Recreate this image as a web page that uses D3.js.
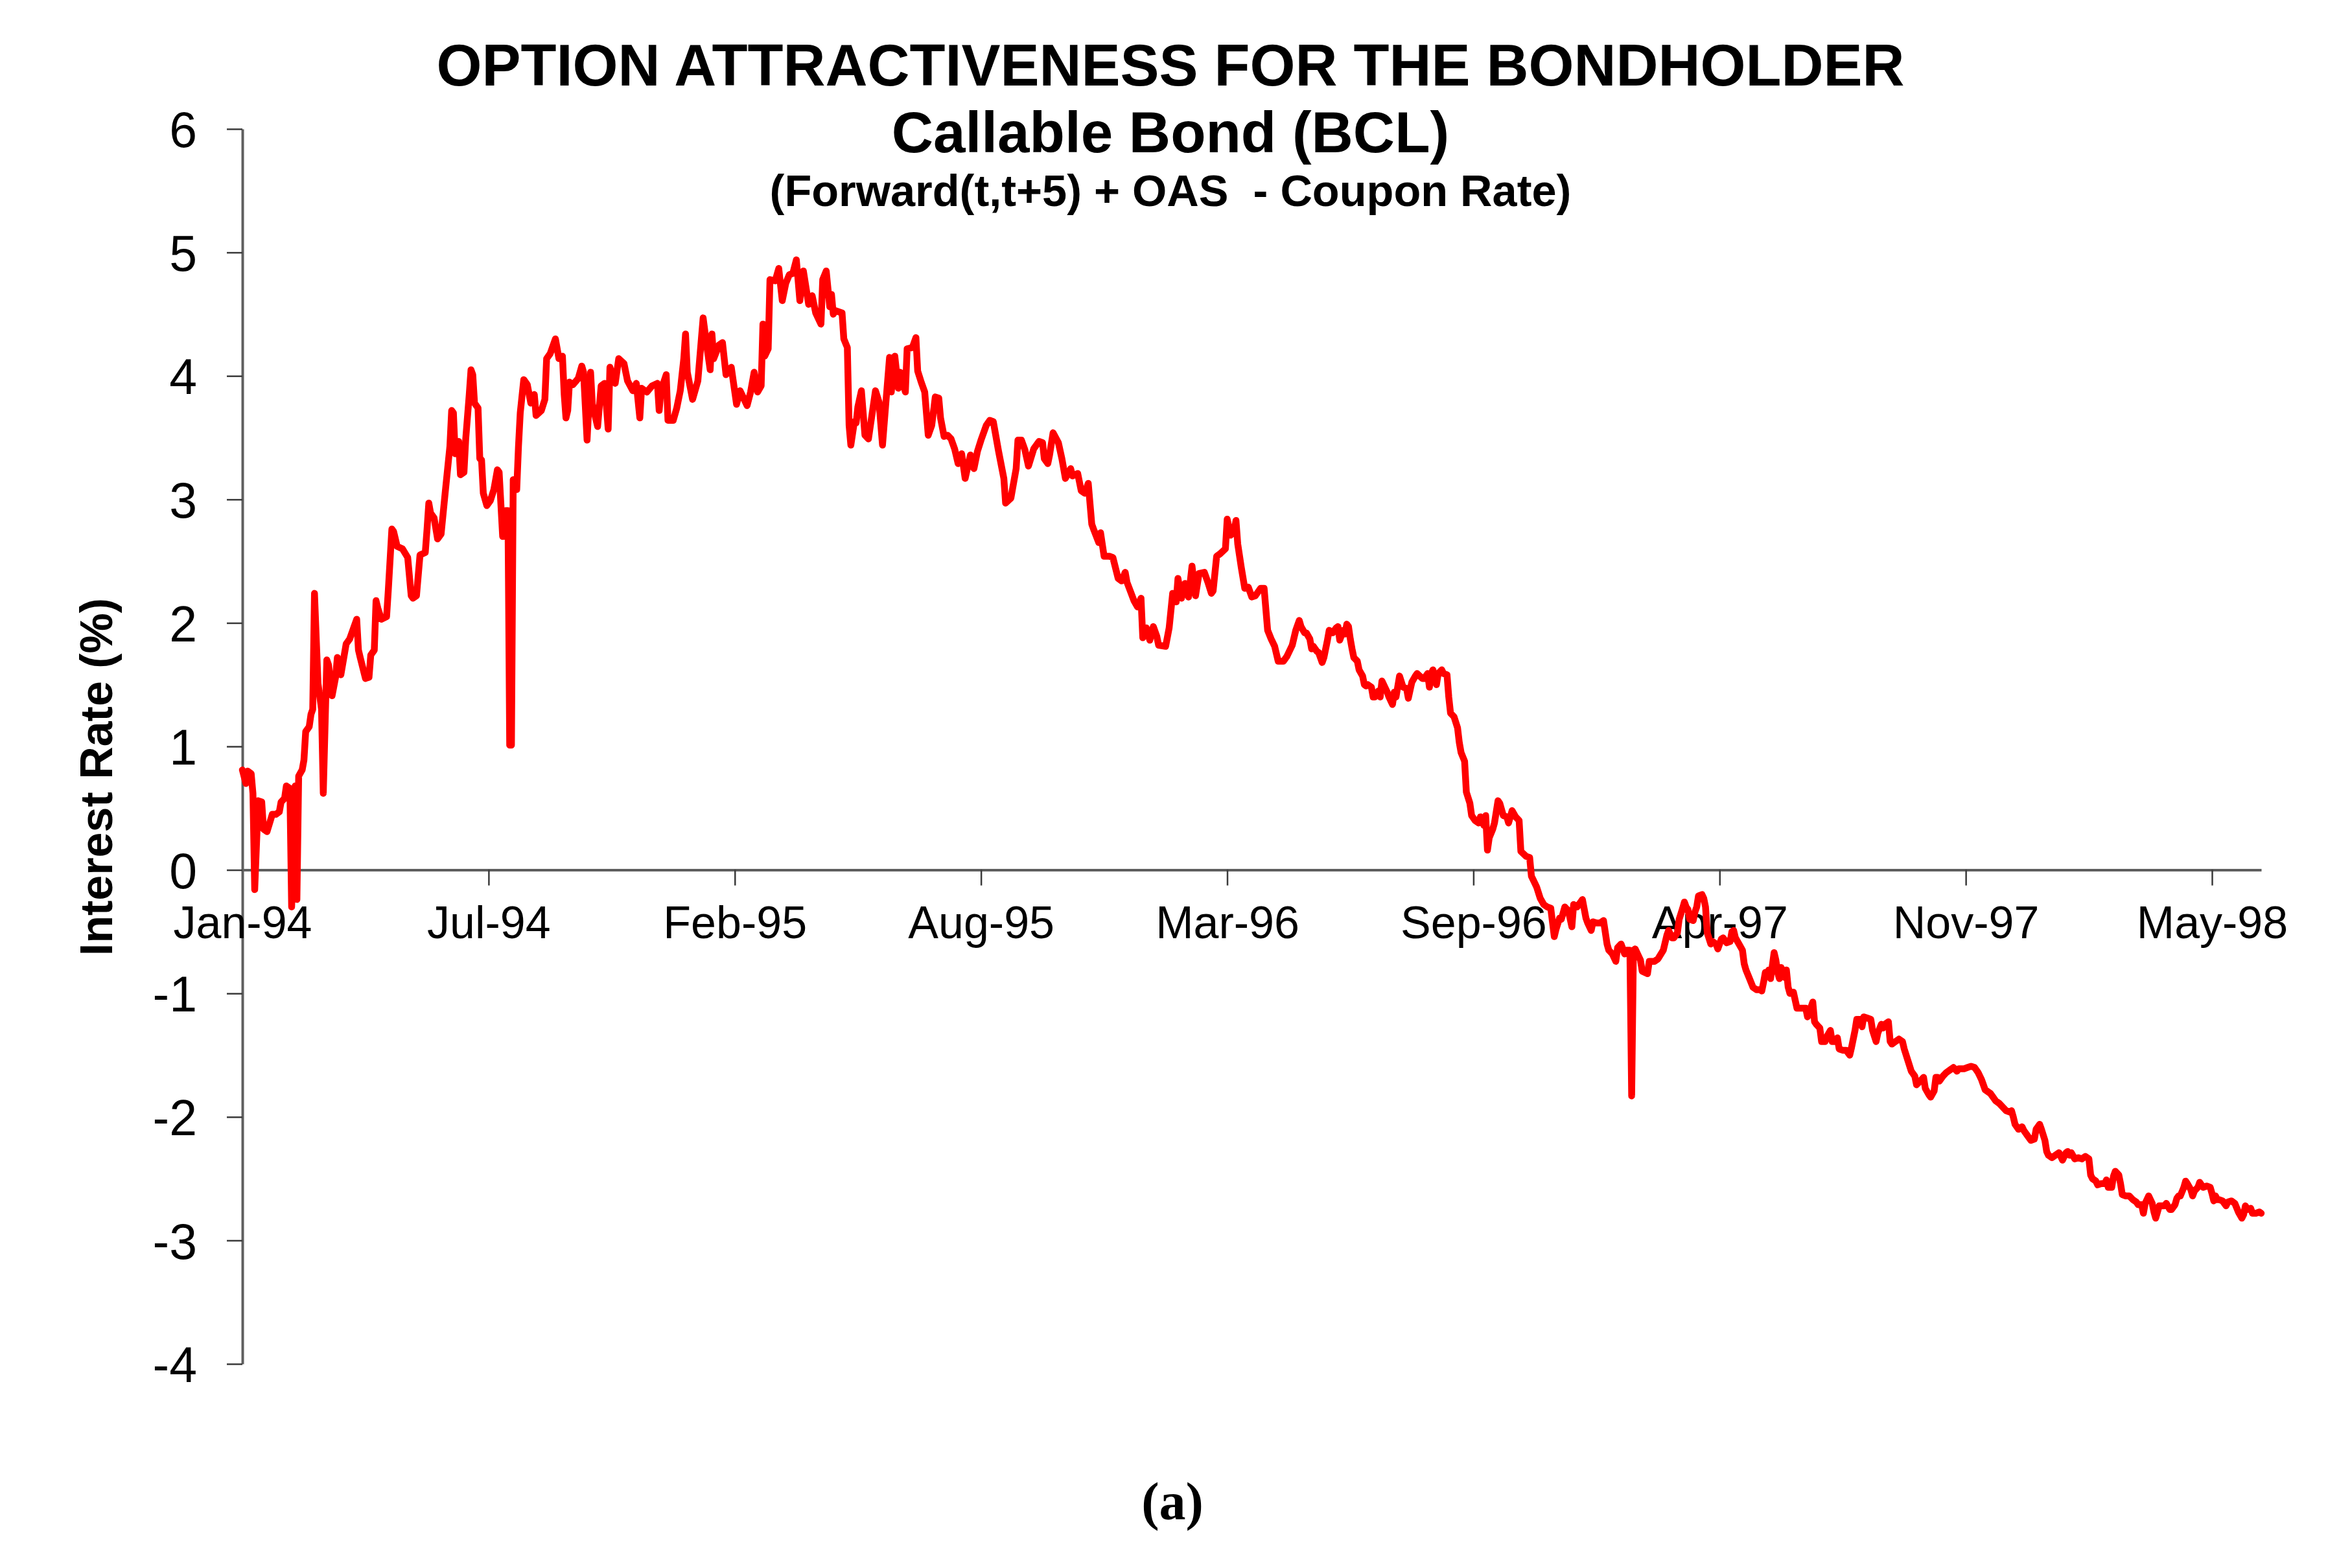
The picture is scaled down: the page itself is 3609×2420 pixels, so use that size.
<!DOCTYPE html>
<html>
<head>
<meta charset="utf-8">
<script src="https://cdn.jsdelivr.net/npm/d3@7"></script>
<style>
  html, body { margin: 0; padding: 0; background: #ffffff; }
  svg { display: block; }
</style>
</head>
<body>
<div id="chart"></div>
<script>
// ---------------- data ----------------
const titleLines = ["OPTION ATTRACTIVENESS FOR THE BONDHOLDER", "Callable Bond (BCL)", "(Forward(t,t+5) + OAS  - Coupon Rate)"];
const yAxisTitle = "Interest Rate (%)";
const caption = "(a)";

const xTickLabels = ["Jan-94", "Jul-94", "Feb-95", "Aug-95", "Mar-96", "Sep-96", "Apr-97", "Nov-97", "May-98"];
const xTickDays = [0, 140, 280, 420, 560, 700, 840, 980, 1120];   // trading-day index of each label
const lastDay = 1148;
const yTickValues = [6, 5, 4, 3, 2, 1, 0, -1, -2, -3, -4];

// [trading-day index, rate %]
const obs1994a = [[0,0.81],[2,0.70],[3,0.80],[5,0.78],[6,0.62],[7,-0.16],[9,0.56],[11,0.55],[12,0.33],[14,0.31],[17,0.45],[19,0.45],[21,0.47],[22,0.55],[24,0.58],[25,0.68],[27,0.66],[28,-0.30],[30,0.68],[31,-0.24],[32,0.76],[34,0.81],[35,0.89],[36,1.12],[38,1.16],[39,1.26],[40,1.30],[41,2.24],[43,1.51],[45,1.30],[46,0.62],[48,1.70],[49,1.66],[51,1.41],[53,1.56],[54,1.72],[56,1.58],[59,1.83],[61,1.87],[65,2.03],[66,1.78],[67,1.72],[70,1.55],[72,1.56],[73,1.74],[75,1.78],[76,2.18],[77,2.12],[79,2.03],[82,2.05],[83,2.27],[85,2.76],[86,2.74],[88,2.62],[91,2.60],[94,2.53],[96,2.22],[97,2.20],[99,2.22],[101,2.55],[104,2.57],[105,2.76],[106,2.97],[107,2.89],[109,2.85],[111,2.68],[113,2.72],[115,3.01],[118,3.43],[119,3.72],[120,3.70],[121,3.37],[123,3.47],[124,3.20],[126,3.22],[127,3.49],[129,3.85],[130,4.05],[131,4.01],[132,3.78],[134,3.74],[135,3.33],[136,3.32],[137,3.05],[139,2.95],[141,2.99],[143,3.08],[145,3.24],[146,3.22],[148,2.70],[150,2.91],[151,2.91],[152,1.01],[153,1.01],[154,3.16],[156,3.08],[157,3.43],[158,3.70],[160,3.97],[162,3.93],[164,3.78],[166,3.85],[167,3.68],[170,3.72],[172,3.81],[173,4.14],[175,4.18],[178,4.30],[180,4.14],[182,4.16],[183,3.85],[184,3.66],[185,3.72],[186,3.95],[188,3.93]];
const obs1994b = [[191,3.98],[193,4.08],[194,4.03],[196,3.48],[198,4.03],[199,3.77],[202,3.59],[204,3.92],[206,3.94],[208,3.57],[209,4.07],[212,3.94],[214,4.14],[217,4.10],[219,3.96],[222,3.88],[224,3.94],[226,3.66],[227,3.90],[230,3.87],[233,3.92],[236,3.94],[237,3.72],[238,3.88],[241,4.01],[242,3.64],[245,3.64],[247,3.74],[249,3.88],[251,4.14],[252,4.34],[253,4.03],[256,3.81],[259,3.96],[262,4.47],[264,4.25],[266,4.05],[267,4.34],[268,4.14],[271,4.25],[273,4.27],[275,4.01],[278,4.07],[281,3.77],[283,3.88]];
const obs1995 = [[287,3.76],[289,3.87],[291,4.03],[293,3.87],[295,3.92],[296,4.42],[297,4.16],[299,4.22],[300,4.78],[303,4.77],[305,4.87],[307,4.61],[309,4.75],[311,4.82],[313,4.83],[315,4.94],[317,4.61],[319,4.85],[322,4.58],[324,4.65],[326,4.51],[329,4.42],[330,4.78],[332,4.85],[334,4.56],[335,4.66],[336,4.50],[337,4.53],[341,4.51],[342,4.30],[344,4.23],[345,3.60],[346,3.44],[348,3.63],[349,3.62],[350,3.75],[352,3.88],[354,3.52],[356,3.49],[360,3.88],[362,3.79],[364,3.44],[366,3.80],[368,4.15],[369,3.87],[371,4.16],[373,3.90],[374,4.03],[377,3.87],[378,4.22],[381,4.23],[383,4.31],[384,4.04],[386,3.95],[388,3.87],[390,3.52],[392,3.60],[394,3.83],[396,3.82],[397,3.66],[399,3.51],[401,3.52],[403,3.49],[405,3.41],[407,3.29],[409,3.37],[411,3.17],[414,3.36],[416,3.25],[418,3.39],[420,3.48],[423,3.60],[425,3.64],[427,3.63],[430,3.39],[433,3.17],[434,2.97],[437,3.01],[438,3.09],[440,3.25],[441,3.48],[443,3.48],[445,3.40],[447,3.27],[450,3.41],[453,3.47],[455,3.46],[456,3.33],[458,3.29],[459,3.36],[461,3.54],[464,3.46],[466,3.33],[468,3.17],[471,3.25],[472,3.19],[475,3.21],[477,3.07],[479,3.05],[481,3.13],[483,2.80],[484,2.76],[487,2.65],[488,2.73],[490,2.54],[493,2.54],[495,2.53],[498,2.36],[500,2.34],[502,2.41],[503,2.33],[507,2.18],[509,2.13],[511,2.20],[512,1.88],[514,1.96],[516,1.86],[518,1.97],[520,1.89],[521,1.82],[525,1.81],[527,1.96],[529,2.24],[531,2.17],[532,2.36],[534,2.20],[536,2.32],[538,2.21],[540,2.46],[542,2.22],[544,2.40],[547,2.41],[549,2.33],[551,2.24],[552,2.26],[554,2.54],[556,2.56],[559,2.60],[560,2.84],[562,2.71],[564,2.75],[565,2.83],[566,2.64],[568,2.45],[570,2.28],[572,2.29],[574,2.21],[576,2.22],[579,2.28],[581,2.28],[583,1.94],[585,1.87],[587,1.81],[589,1.69],[592,1.69],[594,1.73],[597,1.82],[599,1.94]];
const obs1996 = [[601,2.02],[602,1.97],[604,1.92],[605,1.92],[607,1.87],[608,1.79],[609,1.81],[611,1.77],[612,1.76],[614,1.68],[615,1.72],[617,1.86],[618,1.94],[620,1.92],[622,1.96],[623,1.97],[624,1.86],[626,1.94],[627,1.91],[628,1.99],[629,1.97],[630,1.87],[631,1.79],[632,1.72],[634,1.69],[635,1.62],[637,1.57],[638,1.50],[639,1.49],[640,1.50],[642,1.48],[643,1.40],[644,1.40],[646,1.45],[647,1.40],[648,1.53],[650,1.47],[651,1.44],[652,1.40],[654,1.34],[655,1.44],[656,1.40],[658,1.57],[660,1.48],[662,1.47],[663,1.39],[665,1.52],[667,1.57],[668,1.59],[671,1.55],[672,1.55],[674,1.59],[675,1.48],[676,1.59],[677,1.62],[679,1.50],[680,1.59],[682,1.62],[683,1.59],[685,1.58],[686,1.40],[687,1.27],[689,1.24],[691,1.15],[692,1.03],[693,0.95],[695,0.88],[696,0.63],[698,0.54],[699,0.44],[701,0.40],[703,0.38],[704,0.43],[706,0.36],[707,0.44],[708,0.16],[709,0.26],[711,0.33],[712,0.38],[714,0.56],[715,0.54],[717,0.44],[719,0.43],[720,0.38],[722,0.48],[724,0.43],[726,0.40],[727,0.15],[730,0.11],[732,0.10],[733,-0.05],[735,-0.11],[736,-0.14],[738,-0.23],[740,-0.28],[742,-0.30],[744,-0.31],[746,-0.54],[747,-0.48],[749,-0.39],[750,-0.40],[752,-0.30],[754,-0.33],[756,-0.46],[757,-0.28],[759,-0.30],[762,-0.24],[764,-0.39],[765,-0.43],[767,-0.49],[768,-0.42],[770,-0.43],[772,-0.43],[774,-0.41],[776,-0.60],[777,-0.65],[779,-0.68],[781,-0.74],[782,-0.63],[784,-0.60],[786,-0.68],[787,-0.65],[789,-0.65],[790,-1.83],[791,-0.65],[792,-0.64],[795,-0.73],[796,-0.82],[799,-0.84],[800,-0.74],[803,-0.74],[805,-0.72],[808,-0.65],[810,-0.53],[811,-0.49],[813,-0.55],[814,-0.55],[816,-0.51],[817,-0.40],[819,-0.31],[820,-0.26]];
const obs1997 = [[821,-0.30],[822,-0.32],[823,-0.40],[825,-0.41],[826,-0.34],[827,-0.30],[828,-0.21],[830,-0.20],[831,-0.23],[832,-0.30],[833,-0.51],[835,-0.60],[836,-0.58],[838,-0.60],[839,-0.64],[841,-0.56],[842,-0.55],[844,-0.59],[846,-0.58],[847,-0.50],[848,-0.49],[849,-0.55],[851,-0.60],[853,-0.65],[854,-0.76],[855,-0.81],[857,-0.88],[859,-0.95],[861,-0.97],[863,-0.97],[864,-0.98],[865,-0.91],[866,-0.83],[867,-0.84],[868,-0.81],[869,-0.88],[871,-0.67],[872,-0.73],[873,-0.83],[874,-0.88],[875,-0.79],[877,-0.87],[878,-0.81],[879,-0.95],[880,-1.00],[882,-0.99],[884,-1.12],[885,-1.12],[887,-1.12],[889,-1.12],[890,-1.19],[892,-1.11],[893,-1.07],[894,-1.23],[895,-1.25],[897,-1.28],[898,-1.39],[899,-1.39],[900,-1.39],[901,-1.35],[903,-1.30],[904,-1.39],[905,-1.39],[907,-1.36],[908,-1.45],[910,-1.46],[912,-1.46],[914,-1.50],[915,-1.44],[917,-1.30],[918,-1.21],[920,-1.21],[921,-1.27],[922,-1.19],[924,-1.20],[926,-1.21],[927,-1.30],[929,-1.39],[930,-1.32],[932,-1.25],[933,-1.28],[934,-1.25],[936,-1.23],[937,-1.39],[938,-1.41],[940,-1.39],[942,-1.37],[944,-1.39],[945,-1.45],[947,-1.54],[949,-1.63],[951,-1.67],[952,-1.74],[954,-1.71],[956,-1.68],[957,-1.77],[959,-1.82],[960,-1.84],[962,-1.79],[963,-1.68],[964,-1.68],[965,-1.71],[967,-1.67],[969,-1.64],[971,-1.62],[973,-1.60],[975,-1.63],[976,-1.61],[979,-1.61],[981,-1.60],[983,-1.59],[985,-1.60],[987,-1.64],[989,-1.70],[991,-1.78],[994,-1.81],[995,-1.83],[997,-1.87],[999,-1.89],[1001,-1.92],[1003,-1.95]];
const obs1998 = [[1005,-1.96],[1006,-1.95],[1007,-2.00],[1008,-2.06],[1010,-2.10],[1011,-2.09],[1012,-2.08],[1013,-2.11],[1015,-2.15],[1017,-2.19],[1019,-2.18],[1020,-2.10],[1022,-2.06],[1023,-2.10],[1025,-2.19],[1026,-2.28],[1027,-2.31],[1029,-2.33],[1031,-2.31],[1033,-2.29],[1034,-2.32],[1035,-2.35],[1037,-2.29],[1038,-2.28],[1039,-2.31],[1040,-2.29],[1042,-2.34],[1044,-2.33],[1046,-2.34],[1048,-2.32],[1050,-2.34],[1051,-2.47],[1052,-2.50],[1054,-2.52],[1055,-2.55],[1057,-2.54],[1059,-2.54],[1060,-2.51],[1061,-2.57],[1063,-2.57],[1064,-2.48],[1065,-2.44],[1067,-2.47],[1068,-2.54],[1069,-2.63],[1071,-2.64],[1073,-2.64],[1075,-2.67],[1077,-2.69],[1078,-2.71],[1080,-2.71],[1081,-2.78],[1082,-2.70],[1083,-2.67],[1084,-2.64],[1086,-2.70],[1087,-2.77],[1088,-2.82],[1089,-2.77],[1090,-2.72],[1091,-2.72],[1093,-2.72],[1094,-2.70],[1096,-2.75],[1097,-2.75],[1099,-2.71],[1100,-2.66],[1101,-2.64],[1102,-2.64],[1104,-2.57],[1105,-2.52],[1106,-2.54],[1108,-2.59],[1109,-2.64],[1110,-2.60],[1112,-2.57],[1113,-2.53],[1115,-2.57],[1117,-2.56],[1119,-2.57],[1120,-2.62],[1121,-2.68],[1122,-2.64],[1123,-2.67],[1124,-2.67],[1126,-2.68],[1128,-2.72],[1129,-2.69],[1131,-2.68],[1133,-2.70],[1135,-2.77],[1137,-2.82],[1138,-2.79],[1139,-2.72],[1140,-2.75],[1142,-2.74],[1143,-2.78],[1145,-2.78],[1147,-2.77],[1148,-2.78]];

const series = [].concat(obs1994a, obs1994b, obs1995, obs1996, obs1997, obs1998);

// ---------------- drawing ----------------
const W = 3609, H = 2420;
const SANS = "'Liberation Sans', Arial, Helvetica, sans-serif";
const SERIF = "'Liberation Serif', 'Times New Roman', serif";

const svg = d3.select("#chart").append("svg")
  .attr("width", W).attr("height", H)
  .attr("viewBox", `0 0 ${W} ${H}`);

svg.append("rect").attr("width", W).attr("height", H).attr("fill", "#ffffff");

const x = d3.scaleLinear().domain([0, lastDay]).range([374, 3489]);
const y = d3.scaleLinear().domain([-4, 6]).range([2105, 199]);

// Titles
const titleX = 1806;
svg.append("text").attr("x", titleX).attr("y", 132)
  .attr("text-anchor", "middle").attr("font-family", SANS).attr("font-weight", "bold")
  .attr("font-size", 90).attr("fill", "#000").text(titleLines[0]);
svg.append("text").attr("x", titleX).attr("y", 235)
  .attr("text-anchor", "middle").attr("font-family", SANS).attr("font-weight", "bold")
  .attr("font-size", 89).attr("fill", "#000").text(titleLines[1]);
svg.append("text").attr("x", titleX).attr("y", 318)
  .attr("text-anchor", "middle").attr("font-family", SANS).attr("font-weight", "bold")
  .attr("font-size", 68.5).attr("fill", "#000").style("white-space", "pre")
  .text(titleLines[2]);

// Y axis
const yAxis = svg.append("g").attr("transform", `translate(${x(0)},0)`)
  .call(d3.axisLeft(y).tickValues(yTickValues).tickFormat(d3.format("d"))
    .tickSize(24).tickSizeOuter(0).tickPadding(46));
yAxis.select(".domain").attr("stroke", "#5f5f5f").attr("stroke-width", 4);
yAxis.selectAll(".tick line").attr("stroke", "#3a3a3a").attr("stroke-width", 2.5);
yAxis.selectAll(".tick text")
  .attr("font-family", SANS).attr("font-size", 77).attr("fill", "#000")
  .attr("dy", "0.36em")
  .text(d => d < 0 ? "-" + Math.abs(d) : String(d));

// X axis at zero
const xAxis = svg.append("g").attr("transform", `translate(0,${y(0)})`)
  .call(d3.axisBottom(x).tickValues(xTickDays).tickFormat((d, i) => xTickLabels[i])
    .tickSize(24).tickSizeOuter(0));
xAxis.select(".domain").attr("stroke", "#5f5f5f").attr("stroke-width", 4);
xAxis.selectAll(".tick line").attr("stroke", "#3a3a3a").attr("stroke-width", 2.5);
xAxis.selectAll(".tick text")
  .attr("font-family", SANS).attr("font-size", 70).attr("fill", "#000")
  .attr("y", 105).attr("dy", 0);
xAxis.selectAll(".tick line").filter(d => d === 0).remove();

// Y axis title
svg.append("text")
  .attr("transform", "translate(173,1199) rotate(-90)")
  .attr("text-anchor", "middle").attr("font-family", SANS).attr("font-weight", "bold")
  .attr("font-size", 70).attr("fill", "#000").text(yAxisTitle);

// Line
const line = d3.line().x(d => x(d[0])).y(d => y(d[1]));
svg.append("path").datum(series)
  .attr("d", line)
  .attr("fill", "none").attr("stroke", "#ff0000")
  .attr("stroke-width", 10.5).attr("stroke-linejoin", "round").attr("stroke-linecap", "round");

// Caption
svg.append("text").attr("x", 1809).attr("y", 2345)
  .attr("text-anchor", "middle").attr("font-family", SERIF).attr("font-weight", "bold")
  .attr("font-size", 82).attr("fill", "#000").text(caption);
</script>
</body>
</html>
